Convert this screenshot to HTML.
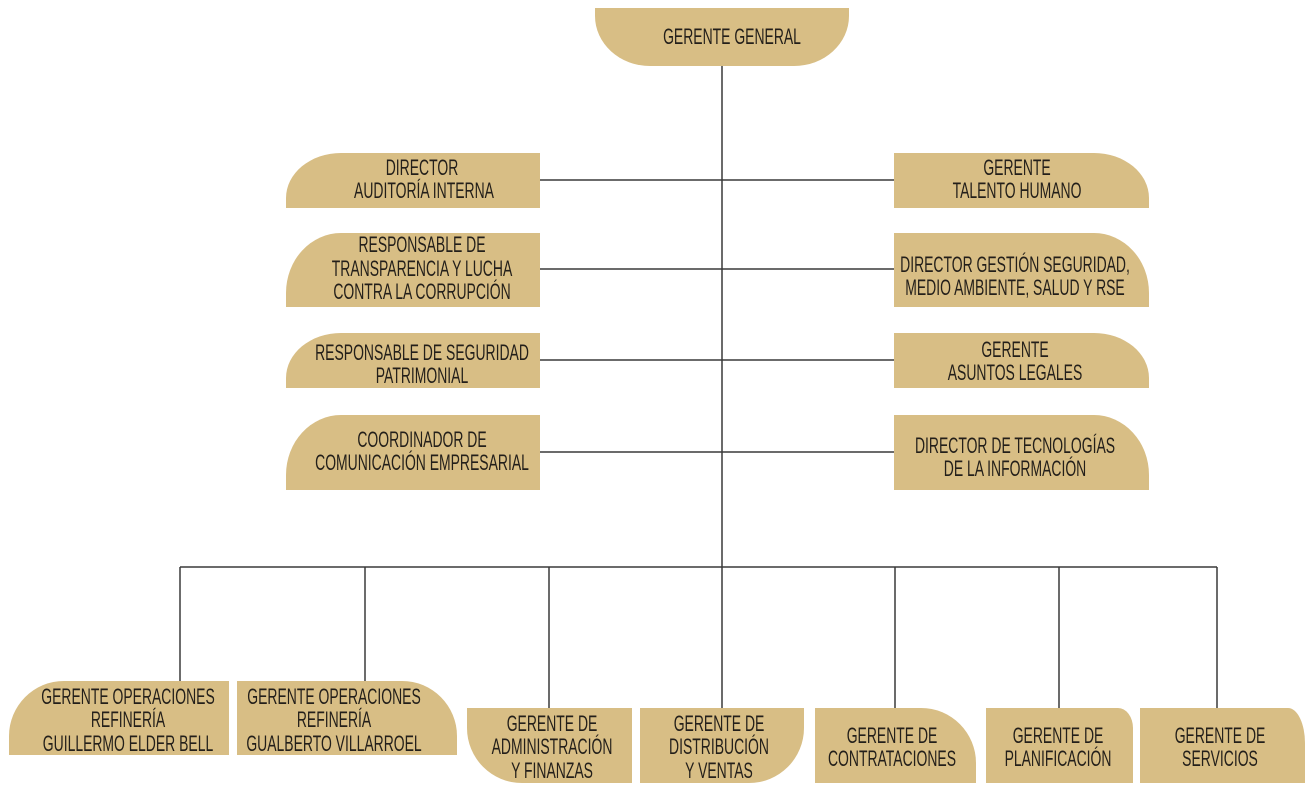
<!DOCTYPE html>
<html><head><meta charset="utf-8"><style>
html,body{margin:0;padding:0;background:#fff;}
svg text{font-family:"Liberation Sans",sans-serif;font-size:22.5px;fill:#231f1a;text-anchor:middle;}
</style></head><body>
<svg width="1314" height="792" viewBox="0 0 1314 792" xmlns="http://www.w3.org/2000/svg">
<g stroke="#3a3a3a" stroke-width="1.5" fill="none">
<line x1="722" y1="66" x2="722" y2="708"/>
<line x1="540" y1="180" x2="894" y2="180"/>
<line x1="540" y1="269" x2="894" y2="269"/>
<line x1="540" y1="360" x2="894" y2="360"/>
<line x1="540" y1="452" x2="894" y2="452"/>
<line x1="180" y1="567" x2="1217" y2="567"/>
<line x1="180" y1="567" x2="180" y2="681"/>
<line x1="365" y1="567" x2="365" y2="681"/>
<line x1="549" y1="567" x2="549" y2="708"/>
<line x1="895" y1="567" x2="895" y2="708"/>
<line x1="1059" y1="567" x2="1059" y2="708"/>
<line x1="1217" y1="567" x2="1217" y2="708"/>
</g>
<g fill="#d8be85">
<path d="M595,8 H849 V16 A55,50 0 0 1 794,66 H650 A55,50 0 0 1 595,16 Z"/>
<path d="M286,208 V198 A55,45 0 0 1 341,153 H540 V208 Z"/>
<path d="M286,307 V293 A55,60 0 0 1 341,233 H540 V307 Z"/>
<path d="M286,388 V378 A55,45 0 0 1 341,333 H540 V388 Z"/>
<path d="M286,490 V475 A55,60 0 0 1 341,415 H540 V490 Z"/>
<path d="M894,153 H1094 A55,45 0 0 1 1149,198 V208 H894 Z"/>
<path d="M894,233 H1094 A55,60 0 0 1 1149,293 V307 H894 Z"/>
<path d="M894,333 H1094 A55,45 0 0 1 1149,378 V388 H894 Z"/>
<path d="M894,415 H1094 A55,60 0 0 1 1149,475 V490 H894 Z"/>
<path d="M9,755 V736 A55,55 0 0 1 64,681 H229 V755 Z"/>
<path d="M237,681 H402 A55,55 0 0 1 457,736 V755 H237 Z"/>
<path d="M467,708 H632 V783 H522 A55,55 0 0 1 467,728 Z"/>
<path d="M640,708 H804 V728 A55,55 0 0 1 749,783 H640 Z"/>
<path d="M815,708 H921 A55,55 0 0 1 976,763 V783 H815 Z"/>
<path d="M986,708 H1118 A15,20 0 0 1 1133,728 V783 H986 Z"/>
<path d="M1140,708 H1288 A17,35 0 0 1 1305,743 V783 H1140 Z"/>
</g>
<g>
<text transform="translate(732,44) scale(0.62,1)">GERENTE GENERAL</text>

<text transform="translate(422,175) scale(0.62,1)">DIRECTOR</text>
<text transform="translate(424,198) scale(0.62,1)">AUDITORÍA INTERNA</text>
<text transform="translate(422,252) scale(0.62,1)">RESPONSABLE DE</text>
<text transform="translate(422,276) scale(0.62,1)">TRANSPARENCIA Y LUCHA</text>
<text transform="translate(422,299) scale(0.62,1)">CONTRA LA CORRUPCIÓN</text>
<text transform="translate(422,360) scale(0.62,1)">RESPONSABLE DE SEGURIDAD</text>
<text transform="translate(422,383) scale(0.62,1)">PATRIMONIAL</text>
<text transform="translate(422,447) scale(0.62,1)">COORDINADOR DE</text>
<text transform="translate(422,470) scale(0.62,1)">COMUNICACIÓN EMPRESARIAL</text>

<text transform="translate(1017,175) scale(0.62,1)">GERENTE</text>
<text transform="translate(1017,198) scale(0.62,1)">TALENTO HUMANO</text>
<text transform="translate(1015,272) scale(0.62,1)">DIRECTOR GESTIÓN SEGURIDAD,</text>
<text transform="translate(1015,295) scale(0.62,1)">MEDIO AMBIENTE, SALUD Y RSE</text>
<text transform="translate(1015,357) scale(0.62,1)">GERENTE</text>
<text transform="translate(1015,380) scale(0.62,1)">ASUNTOS LEGALES</text>
<text transform="translate(1015,453) scale(0.62,1)">DIRECTOR DE TECNOLOGÍAS</text>
<text transform="translate(1015,476) scale(0.62,1)">DE LA INFORMACIÓN</text>

<text transform="translate(128,704) scale(0.62,1)">GERENTE OPERACIONES</text>
<text transform="translate(128,727) scale(0.62,1)">REFINERÍA</text>
<text transform="translate(128,751) scale(0.62,1)">GUILLERMO ELDER BELL</text>
<text transform="translate(334,704) scale(0.62,1)">GERENTE OPERACIONES</text>
<text transform="translate(334,727) scale(0.62,1)">REFINERÍA</text>
<text transform="translate(334,751) scale(0.62,1)">GUALBERTO VILLARROEL</text>

<text transform="translate(552,731) scale(0.62,1)">GERENTE DE</text>
<text transform="translate(552,754) scale(0.62,1)">ADMINISTRACIÓN</text>
<text transform="translate(552,778) scale(0.62,1)">Y FINANZAS</text>
<text transform="translate(719,731) scale(0.62,1)">GERENTE DE</text>
<text transform="translate(719,754) scale(0.62,1)">DISTRIBUCIÓN</text>
<text transform="translate(719,778) scale(0.62,1)">Y VENTAS</text>
<text transform="translate(892,743) scale(0.62,1)">GERENTE DE</text>
<text transform="translate(892,766) scale(0.62,1)">CONTRATACIONES</text>
<text transform="translate(1058,743) scale(0.62,1)">GERENTE DE</text>
<text transform="translate(1058,766) scale(0.62,1)">PLANIFICACIÓN</text>
<text transform="translate(1220,743) scale(0.62,1)">GERENTE DE</text>
<text transform="translate(1220,766) scale(0.62,1)">SERVICIOS</text>
</g>
</svg>
</body></html>
